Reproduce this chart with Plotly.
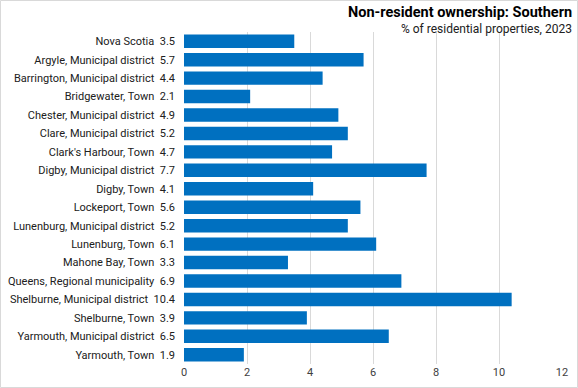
import plotly.graph_objects as go

categories = [
    "Nova Scotia", "Argyle, Municipal district", "Barrington, Municipal district",
    "Bridgewater, Town", "Chester, Municipal district", "Clare, Municipal district",
    "Clark's Harbour, Town", "Digby, Municipal district", "Digby, Town",
    "Lockeport, Town", "Lunenburg, Municipal district", "Lunenburg, Town",
    "Mahone Bay, Town", "Queens, Regional municipality", "Shelburne, Municipal district",
    "Shelburne, Town", "Yarmouth, Municipal district", "Yarmouth, Town",
]
values = [3.5, 5.7, 4.4, 2.1, 4.9, 5.2, 4.7, 7.7, 4.1, 5.6, 5.2, 6.1, 3.3, 6.9, 10.4, 3.9, 6.5, 1.9]
x_ticks = [0, 2, 4, 6, 8, 10, 12]

labels = [f"{c}  {v}" for c, v in zip(categories, values)]

W, H = 578, 388
ml, mr, mt, mb = 184, 15, 32, 24
pw, ph = W - ml - mr, H - mt - mb

fig = go.Figure(go.Bar(
    x=values, y=labels, orientation="h",
    marker=dict(color="#0070C0", line=dict(width=0)),
    hoverinfo="x+y",
))

fig.update_layout(
    width=W, height=H,
    margin=dict(l=ml, r=mr, t=mt, b=mb, autoexpand=False),
    paper_bgcolor="white", plot_bgcolor="white",
    font=dict(family="Roboto, Arial, sans-serif", size=11, color="#000000"),
    bargap=0.27,
    showlegend=False,
    xaxis=dict(
        range=[0, 12.03], tickvals=x_ticks, showgrid=True, gridcolor="#D9D9D9",
        gridwidth=1, zeroline=False, showline=False, ticks="", automargin=False,
        tickfont=dict(size=11, color="#404040"),
    ),
    yaxis=dict(
        autorange="reversed", showgrid=False, zeroline=False, showline=False,
        ticks="", tickfont=dict(size=11, color="#202020"), ticklabelstandoff=8,
        automargin=False,
    ),
    annotations=[
        dict(text="<b>Non-resident ownership: Southern</b>", xref="paper", yref="paper",
             x=(W - 4 - ml) / pw, y=1 + (mt - 13) / ph, xanchor="right", yanchor="middle",
             showarrow=False, font=dict(size=14.5, color="#000000")),
        dict(text="% of residential properties, 2023", xref="paper", yref="paper",
             x=(W - 4 - ml) / pw, y=1 + (mt - 29) / ph, xanchor="right", yanchor="middle",
             showarrow=False, font=dict(size=12, color="#202020")),
    ],
    shapes=[
        dict(type="rect", xref="paper", yref="paper",
             x0=-(ml - 0.5) / pw, x1=1 + (mr - 0.5) / pw,
             y0=-(mb - 0.5) / ph, y1=1 + (mt - 0.5) / ph,
             line=dict(color="#D9D9D9", width=1), layer="below"),
    ],
)

fig.write_html("out.html", config={"displayModeBar": False},
               post_script="document.body.style.margin='0';")
